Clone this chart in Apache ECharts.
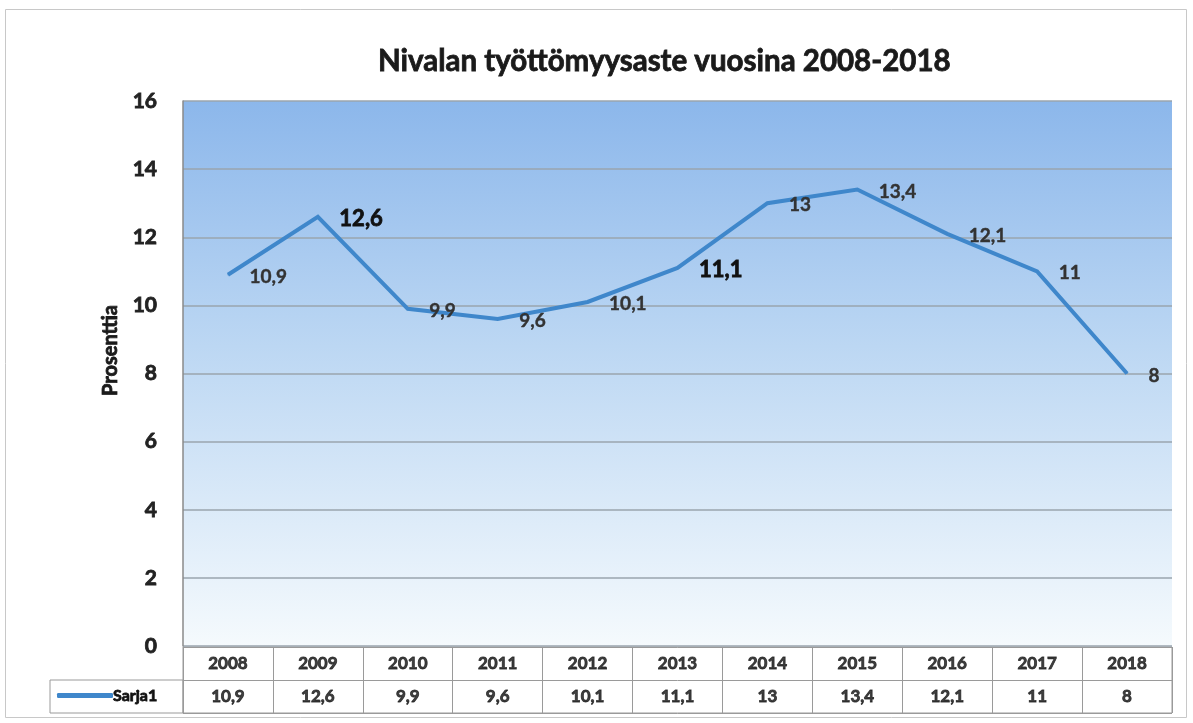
<!DOCTYPE html>
<html><head><meta charset="utf-8">
<script src="https://cdn.jsdelivr.net/npm/echarts@6/dist/echarts.min.js"></script>
<style>html,body{margin:0;padding:0;background:#fff}#c{width:1193px;height:723px}</style>
</head><body><div id="c"></div>
<script>
const titleText = 'Nivalan työttömyysaste vuosina 2008-2018';
const axisTitle = 'Prosenttia';
const seriesName = 'Sarja1';
const years = ['2008','2009','2010','2011','2012','2013','2014','2015','2016','2017','2018'];
const values = [10.9, 12.6, 9.9, 9.6, 10.1, 11.1, 13, 13.4, 12.1, 11, 8];
const yMin = 0, yMax = 16, yStep = 2;
const emphasizedIdx = [1, 5];

const fmt = v => String(v).replace('.', ',');
const FONT = 'Lato';
const lineColor = '#3f87cb';
const heavy = c => ({textBorderColor: c, textBorderWidth: 0.8});

const chart = echarts.init(document.getElementById('c'), null, {renderer:'canvas'});
const option = {
  backgroundColor: '#ffffff',
  animation: false,
  title: {
    text: titleText, left: 373, top: 41,
    textStyle: Object.assign({fontFamily: FONT, fontWeight: 'bold', fontSize: 29.5, color: '#1a1a1a'}, heavy('#1a1a1a'))
  },
  legend: {
    data: [seriesName], left: 57, top: 687, padding: 0,
    icon: 'roundRect', itemWidth: 56, itemHeight: 5, itemGap: 0,
    textStyle: Object.assign({fontFamily: FONT, fontWeight: 'bold', fontSize: 16, color: '#111', padding: [0,0,0,-5]}, heavy('#111'))
  },
  grid: [
    {left: 183, right: 21, top: 101, bottom: 77, show: true, borderWidth: 0,
     backgroundColor: {type:'linear', x:0, y:0, x2:0, y2:1, colorStops:[
       {offset:0, color:'#8cb7eb'}, {offset:0.45, color:'#bcd7f3'}, {offset:1, color:'#f5fafd'}]}},
    {left: 183, right: 21, top: 647, height: 66, show: true, borderColor: '#9a9a9a', borderWidth: 1, backgroundColor: '#fff'}
  ],
  xAxis: [
    {type: 'category', gridIndex: 0, data: years, boundaryGap: true,
     axisLine: {show: false}, axisTick: {show: false}, axisLabel: {show: false}},
    {type: 'category', gridIndex: 1, data: years, boundaryGap: true,
     axisLine: {show: false}, axisTick: {show: false}, axisLabel: {show: false},
     splitLine: {show: true, lineStyle: {color: '#9a9a9a', width: 1}}}
  ],
  yAxis: [
    {type: 'value', gridIndex: 0, min: yMin, max: yMax, interval: yStep,
     name: axisTitle, nameLocation: 'middle', nameGap: 61, nameRotate: 90,
     nameTextStyle: Object.assign({fontFamily: FONT, fontWeight: 'bold', fontSize: 20, color: '#1a1a1a', padding: [0,0,0,46]}, heavy('#1a1a1a')),
     axisLine: {show: true, lineStyle: {color: '#8a8a8a', width: 1.5}},
     axisTick: {show: false},
     axisLabel: Object.assign({fontFamily: FONT, fontWeight: 'bold', fontSize: 21, color: '#222', margin: 26, align: 'right'}, heavy('#222')),
     splitLine: {show: true, lineStyle: {color: '#9aa4ae', width: 1.5}}},
    {type: 'category', gridIndex: 1, data: ['v','h'],
     axisLine: {show: false}, axisTick: {show: false}, axisLabel: {show: false},
     splitLine: {show: true, lineStyle: {color: '#9a9a9a', width: 1}}}
  ],
  series: [
    {name: seriesName, type: 'line', xAxisIndex: 0, yAxisIndex: 0,
     data: values.map((v, i) => emphasizedIdx.includes(i)
       ? {value: v, label: Object.assign({fontSize: 22, color: '#111'}, heavy('#111'))} : v),
     symbol: 'circle', symbolSize: 1,
     lineStyle: {color: lineColor, width: 4, join: 'miter'},
     itemStyle: {color: lineColor},
     label: {show: true, position: 'right', distance: 21, offset: [0, 2],
       formatter: p => fmt(p.value),
       fontFamily: FONT, fontWeight: 'bold', fontSize: 19, color: '#333', textBorderColor: '#333', textBorderWidth: 0.4}},
    {name: 'hdr', type: 'scatter', xAxisIndex: 1, yAxisIndex: 1, symbolSize: 1,
     itemStyle: {color: 'rgba(0,0,0,0)'},
     data: years.map((y, i) => [i, 1]),
     label: Object.assign({show: true, position: 'inside', formatter: p => years[p.dataIndex],
       fontFamily: FONT, fontWeight: 'bold', fontSize: 17, color: '#111'}, heavy('#111'))},
    {name: 'val', type: 'scatter', xAxisIndex: 1, yAxisIndex: 1, symbolSize: 1,
     itemStyle: {color: 'rgba(0,0,0,0)'},
     data: values.map((v, i) => [i, 0]),
     label: Object.assign({show: true, position: 'inside', formatter: p => fmt(values[p.dataIndex]),
       fontFamily: FONT, fontWeight: 'bold', fontSize: 17, color: '#111'}, heavy('#111'))}
  ],
  graphic: [
    {type: 'rect', shape: {x: 50, y: 680, width: 133, height: 33}, style: {fill: 'none', stroke: '#9a9a9a', lineWidth: 1}, silent: true},
    {type: 'rect', shape: {x: 5.5, y: 9.5, width: 1181, height: 708}, style: {fill: 'none', stroke: '#c8c8c8', lineWidth: 1}, silent: true}
  ]
};
chart.setOption(option);
</script>
</body></html>
